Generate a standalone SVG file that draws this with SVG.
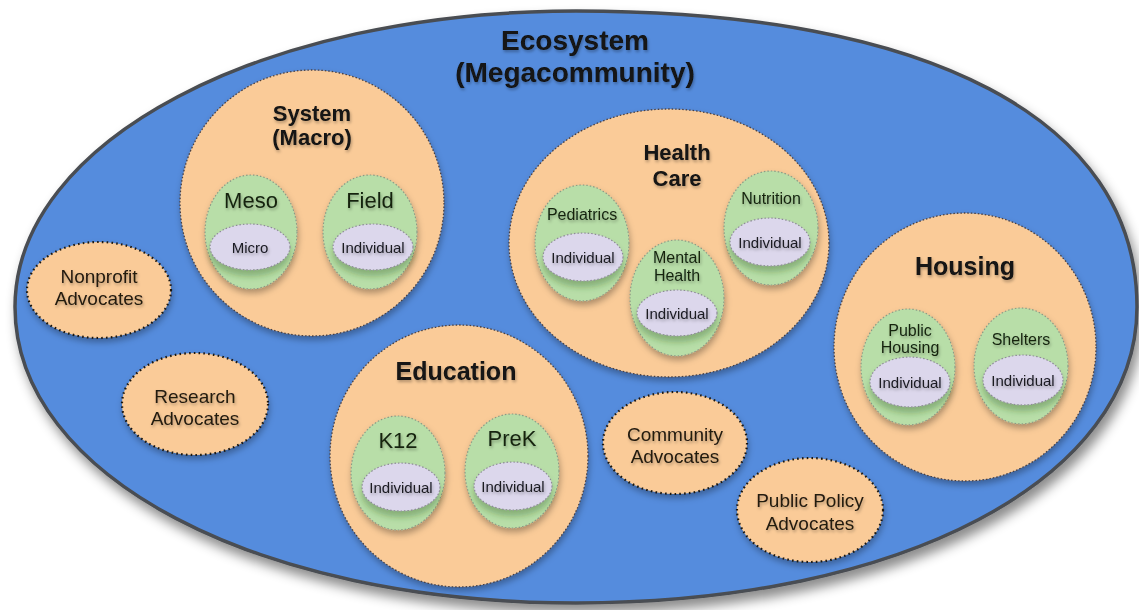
<svg xmlns="http://www.w3.org/2000/svg" width="1139" height="610" viewBox="0 0 1139 610">
  <defs>
    <filter id="bigShadow" x="-10%" y="-10%" width="120%" height="125%">
      <feDropShadow dx="4" dy="8" stdDeviation="6" flood-color="#000" flood-opacity="0.45"/>
    </filter>
    <filter id="nodeShadow" x="-20%" y="-20%" width="140%" height="150%">
      <feDropShadow dx="1" dy="4" stdDeviation="3" flood-color="#000" flood-opacity="0.3"/>
    </filter>
    <filter id="innerShadow" x="-25%" y="-25%" width="150%" height="170%">
      <feDropShadow dx="0" dy="6" stdDeviation="3" flood-color="#2e5a23" flood-opacity="0.35"/>
    </filter>
    <filter id="textShadow" x="-10%" y="-30%" width="120%" height="170%">
      <feDropShadow dx="1" dy="2" stdDeviation="1.5" flood-color="#000" flood-opacity="0.3"/>
    </filter>
  </defs>
  <style>
    text { font-family: "Liberation Sans", Arial, sans-serif; fill: #121212; text-anchor: middle; filter: url(#textShadow); }
    .title { font-size: 28px; font-weight: bold; }
    .head { font-size: 22px; font-weight: bold; }
    .head2 { font-size: 25px; font-weight: bold; }
    .sub { font-size: 22px; fill: #14240f; }
    .subs { font-size: 16px; fill: #14240f; }
    .ind { font-size: 15px; fill: #1a1a22; }
    .adv { font-size: 19px; fill: #221a10; }
    .eco { fill: #558CDD; stroke: #4a4d52; stroke-width: 3.5; filter: url(#bigShadow); }
    .domain { fill: #FACB98; stroke: #4b4040; stroke-width: 1.3; stroke-dasharray: 1.5 2; filter: url(#nodeShadow); }
    .advocate { fill: #FACB98; stroke: #1e1810; stroke-width: 2.2; stroke-dasharray: 1.6 3.2; filter: url(#nodeShadow); }
    .group { fill: #B8DEA8; stroke: #8a9a86; stroke-width: 1.2; stroke-dasharray: 1.5 2; filter: url(#nodeShadow); }
    .person { fill: #DCD7EC; stroke: #8e8b98; stroke-width: 1.2; stroke-dasharray: 1.5 2; filter: url(#innerShadow); }
  </style>

  <!-- outer ecosystem -->
  <g id="ecosystem">
    <path class="eco" d="M1137,307 C1137,120 930,11 576,11 C262,11 15,141 15,307 C15,476 257,603 576,603 C902,603 1137,479 1137,307 Z"/>
    <text class="title" x="575" y="50">Ecosystem</text>
    <text class="title" x="575" y="82">(Megacommunity)</text>
  </g>

  <!-- system (macro) -->
  <g id="system">
    <ellipse class="domain" cx="312" cy="203" rx="132" ry="133"/>
    <text class="head" x="312" y="121">System</text>
    <text class="head" x="312" y="145">(Macro)</text>
  </g>
  <g id="meso">
    <ellipse class="group" cx="251" cy="232" rx="46" ry="57"/>
    <text class="sub" x="251" y="208">Meso</text>
  </g>
  <g id="micro">
    <ellipse class="person" cx="250" cy="247" rx="40" ry="23"/>
    <text class="ind" x="250" y="253">Micro</text>
  </g>
  <g id="field">
    <ellipse class="group" cx="370" cy="232" rx="47" ry="57"/>
    <text class="sub" x="370" y="208">Field</text>
  </g>
  <g id="field-individual">
    <ellipse class="person" cx="373" cy="247" rx="40" ry="23"/>
    <text class="ind" x="373" y="253">Individual</text>
  </g>

  <!-- health care -->
  <g id="health-care">
    <ellipse class="domain" cx="669" cy="243" rx="160" ry="134"/>
    <text class="head" x="677" y="160">Health</text>
    <text class="head" x="677" y="186">Care</text>
  </g>
  <g id="pediatrics">
    <ellipse class="group" cx="582" cy="243" rx="47" ry="58"/>
    <text class="subs" x="582" y="220">Pediatrics</text>
  </g>
  <g id="pediatrics-individual">
    <ellipse class="person" cx="583" cy="257" rx="40" ry="24"/>
    <text class="ind" x="583" y="263">Individual</text>
  </g>
  <g id="mental-health">
    <ellipse class="group" cx="677" cy="298" rx="47" ry="58"/>
    <text class="subs" x="677" y="263">Mental</text>
    <text class="subs" x="677" y="281">Health</text>
  </g>
  <g id="mental-health-individual">
    <ellipse class="person" cx="677" cy="313" rx="40" ry="23"/>
    <text class="ind" x="677" y="319">Individual</text>
  </g>
  <g id="nutrition">
    <ellipse class="group" cx="771" cy="228" rx="47" ry="57"/>
    <text class="subs" x="771" y="204">Nutrition</text>
  </g>
  <g id="nutrition-individual">
    <ellipse class="person" cx="770" cy="242" rx="40" ry="24"/>
    <text class="ind" x="770" y="248">Individual</text>
  </g>

  <!-- housing -->
  <g id="housing">
    <ellipse class="domain" cx="965" cy="347" rx="131" ry="134"/>
    <text class="head2" x="965" y="275">Housing</text>
  </g>
  <g id="public-housing">
    <ellipse class="group" cx="908" cy="367" rx="47" ry="58"/>
    <text class="subs" x="910" y="336">Public</text>
    <text class="subs" x="910" y="353">Housing</text>
  </g>
  <g id="public-housing-individual">
    <ellipse class="person" cx="910" cy="382" rx="40" ry="25"/>
    <text class="ind" x="910" y="388">Individual</text>
  </g>
  <g id="shelters">
    <ellipse class="group" cx="1021" cy="366" rx="47" ry="58"/>
    <text class="subs" x="1021" y="345">Shelters</text>
  </g>
  <g id="shelters-individual">
    <ellipse class="person" cx="1023" cy="380" rx="40" ry="25"/>
    <text class="ind" x="1023" y="386">Individual</text>
  </g>

  <!-- education -->
  <g id="education">
    <ellipse class="domain" cx="459" cy="456" rx="129" ry="131"/>
    <text class="head2" x="456" y="380">Education</text>
  </g>
  <g id="k12">
    <ellipse class="group" cx="398" cy="473" rx="47" ry="57"/>
    <text class="sub" x="398" y="448">K12</text>
  </g>
  <g id="k12-individual">
    <ellipse class="person" cx="401" cy="487" rx="39" ry="24"/>
    <text class="ind" x="401" y="493">Individual</text>
  </g>
  <g id="prek">
    <ellipse class="group" cx="512" cy="471" rx="47" ry="57"/>
    <text class="sub" x="512" y="446">PreK</text>
  </g>
  <g id="prek-individual">
    <ellipse class="person" cx="513" cy="486" rx="39" ry="24"/>
    <text class="ind" x="513" y="492">Individual</text>
  </g>

  <!-- advocates -->
  <g id="nonprofit-advocates">
    <ellipse class="advocate" cx="99" cy="290" rx="72" ry="48"/>
    <text class="adv" x="99" y="283">Nonprofit</text>
    <text class="adv" x="99" y="305">Advocates</text>
  </g>
  <g id="research-advocates">
    <ellipse class="advocate" cx="195" cy="404" rx="73" ry="51"/>
    <text class="adv" x="195" y="403">Research</text>
    <text class="adv" x="195" y="425">Advocates</text>
  </g>
  <g id="community-advocates">
    <ellipse class="advocate" cx="675" cy="443" rx="72" ry="51"/>
    <text class="adv" x="675" y="441">Community</text>
    <text class="adv" x="675" y="463">Advocates</text>
  </g>
  <g id="public-policy-advocates">
    <ellipse class="advocate" cx="810" cy="510" rx="73" ry="52"/>
    <text class="adv" x="810" y="507">Public Policy</text>
    <text class="adv" x="810" y="530">Advocates</text>
  </g>
</svg>
